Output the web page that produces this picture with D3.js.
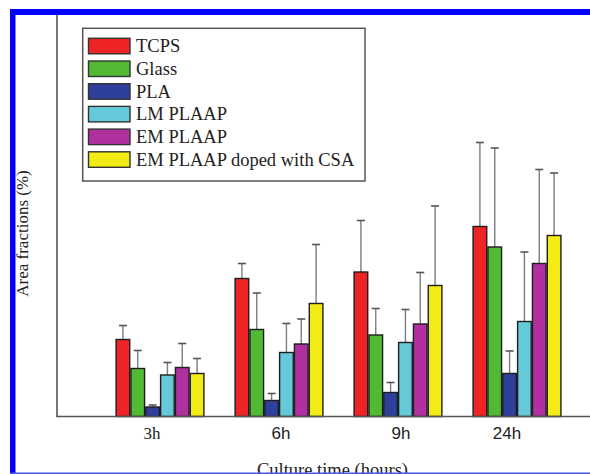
<!DOCTYPE html>
<html>
<head>
<meta charset="utf-8">
<script src="https://cdn.jsdelivr.net/npm/d3@7"></script>
<style>
  html, body { margin: 0; padding: 0; background: #fff; }
  svg { display: block; }
</style>
</head>
<body>
<svg id="chart" width="590" height="474"></svg>
<script>
// Culture times on the x axis
const categories = ["3h", "6h", "9h", "24h"];

// Surfaces compared (one bar per surface in each group)
const seriesNames = ["TCPS", "Glass", "PLA", "LM PLAAP", "EM PLAAP", "EM PLAAP doped with CSA"];

// Area fractions (%) for each surface, per culture time
const tcps      = [7.7, 13.8, 14.45, 19.0];
const glass     = [4.8, 8.7, 8.15, 16.95];
const pla       = [0.95, 1.6, 2.4, 4.3];
const lmPlaap   = [4.15, 6.4, 7.4, 9.5];
const emPlaap   = [4.9, 7.25, 9.25, 15.3];
const emPlaapCsa = [4.3, 11.3, 13.1, 18.1];

// Standard deviations (upper error bars)
const tcpsErr      = [1.4, 1.5, 5.15, 8.4];
const glassErr     = [1.8, 3.65, 2.65, 9.9];
const plaErr       = [0.2, 0.7, 1.0, 2.25];
const lmPlaapErr   = [1.25, 2.9, 3.3, 6.95];
const emPlaapErr   = [2.4, 2.5, 5.15, 9.4];
const emPlaapCsaErr = [1.5, 5.9, 7.95, 6.25];

const seriesValues = [tcps, glass, pla, lmPlaap, emPlaap, emPlaapCsa];
const seriesErrors = [tcpsErr, glassErr, plaErr, lmPlaapErr, emPlaapErr, emPlaapCsaErr];

// Styling
const colors = ["#ee2326", "#52b935", "#2e3f9c", "#66c9da", "#b0309f", "#f3ec14"];
const tickFonts = ["'Liberation Serif', 'Times New Roman', serif",
                   "'Liberation Sans', Arial, sans-serif",
                   "'Liberation Sans', Arial, sans-serif",
                   "'Liberation Sans', Arial, sans-serif"];
const tickShift = [-8, 2, 3, -10];
const serif = "'Liberation Serif', 'Times New Roman', serif";

const svg = d3.select("#chart");

// Flatten into rows for drawing
const rows = [];
categories.forEach((c, ci) => {
  seriesNames.forEach((s, si) => {
    rows.push({ cat: c, series: si, value: seriesValues[si][ci], err: seriesErrors[si][ci] });
  });
});

const baseY = 416.5;
const axisX = 57;

const x0 = d3.scaleBand()
  .domain(categories)
  .range([100.5, 576.5])
  .paddingInner(0.252)
  .paddingOuter(0.126);

const x1 = d3.scaleBand()
  .domain(d3.range(seriesNames.length))
  .range([0, x0.bandwidth()])
  .padding(0);

const y = d3.scaleLinear()
  .domain([0, 40])
  .range([baseY, 16.5]);

// Error bars (drawn behind the bars)
const errG = svg.append("g");
rows.forEach(r => {
  const cx = x0(r.cat) + x1(r.series) + x1.bandwidth() / 2;
  errG.append("line")
    .attr("x1", cx).attr("x2", cx)
    .attr("y1", y(r.value)).attr("y2", y(r.value + r.err))
    .attr("stroke", "#7d7d7d").attr("stroke-width", 1.4);
  errG.append("line")
    .attr("x1", cx - 4).attr("x2", cx + 4)
    .attr("y1", y(r.value + r.err)).attr("y2", y(r.value + r.err))
    .attr("stroke", "#555").attr("stroke-width", 1.6);
});

// Bars
svg.append("g")
  .selectAll("rect")
  .data(rows)
  .join("rect")
  .attr("x", d => x0(d.cat) + x1(d.series) + 0.6)
  .attr("y", d => y(d.value))
  .attr("width", x1.bandwidth() - 1.2)
  .attr("height", d => baseY - y(d.value))
  .attr("fill", d => colors[d.series])
  .attr("stroke", "#1e1e1e")
  .attr("stroke-width", 1.4);

// Axes lines
svg.append("line")
  .attr("x1", axisX).attr("x2", axisX)
  .attr("y1", 15).attr("y2", baseY + 0.7)
  .attr("stroke", "#555").attr("stroke-width", 1.6);
svg.append("line")
  .attr("x1", axisX).attr("x2", 590)
  .attr("y1", baseY).attr("y2", baseY)
  .attr("stroke", "#555").attr("stroke-width", 1.6);

// Category labels
const xAxis = svg.append("g")
  .attr("transform", `translate(0,${baseY})`)
  .call(d3.axisBottom(x0).tickSize(0).tickPadding(0));
xAxis.select(".domain").remove();
xAxis.selectAll(".tick text")
  .attr("y", 22)
  .attr("dy", 0)
  .attr("dx", (d, i) => tickShift[i])
  .attr("fill", "#222")
  .style("font-size", "17px")
  .style("font-family", (d, i) => tickFonts[i]);

// Axis titles
svg.append("text")
  .attr("transform", "translate(28,233.5) rotate(-90)")
  .attr("text-anchor", "middle")
  .attr("fill", "#222")
  .style("font-family", serif)
  .style("font-size", "17px")
  .text("Area fractions (%)");

svg.append("text")
  .attr("x", 332.5).attr("y", 476)
  .attr("text-anchor", "middle")
  .attr("fill", "#222")
  .style("font-family", serif)
  .style("font-size", "18.5px")
  .text("Culture time (hours)");

// Legend
const legend = svg.append("g");
legend.append("rect")
  .attr("x", 82.7).attr("y", 28.3)
  .attr("width", 282.3).attr("height", 152.7)
  .attr("fill", "#fff")
  .attr("stroke", "#555").attr("stroke-width", 1.5);
seriesNames.forEach((name, i) => {
  const ry = 38.3 + i * 22.7;
  legend.append("rect")
    .attr("x", 88.5).attr("y", ry)
    .attr("width", 41.5).attr("height", 15.5)
    .attr("fill", colors[i])
    .attr("stroke", "#333").attr("stroke-width", 1.4);
  legend.append("text")
    .attr("x", 136).attr("y", ry + 14)
    .attr("fill", "#222")
    .style("font-family", serif)
    .style("font-size", "18.5px")
    .text(name);
});

// Frame
svg.append("rect").attr("x", 10).attr("y", 9).attr("width", 580).attr("height", 6).attr("fill", "#0000ff");
svg.append("rect").attr("x", 10).attr("y", 9).attr("width", 5.5).attr("height", 465).attr("fill", "#0000ff");
svg.append("line")
  .attr("x1", 10).attr("x2", 590)
  .attr("y1", 473.3).attr("y2", 473.3)
  .attr("stroke", "#4a55ee").attr("stroke-width", 1.4);
</script>
</body>
</html>
